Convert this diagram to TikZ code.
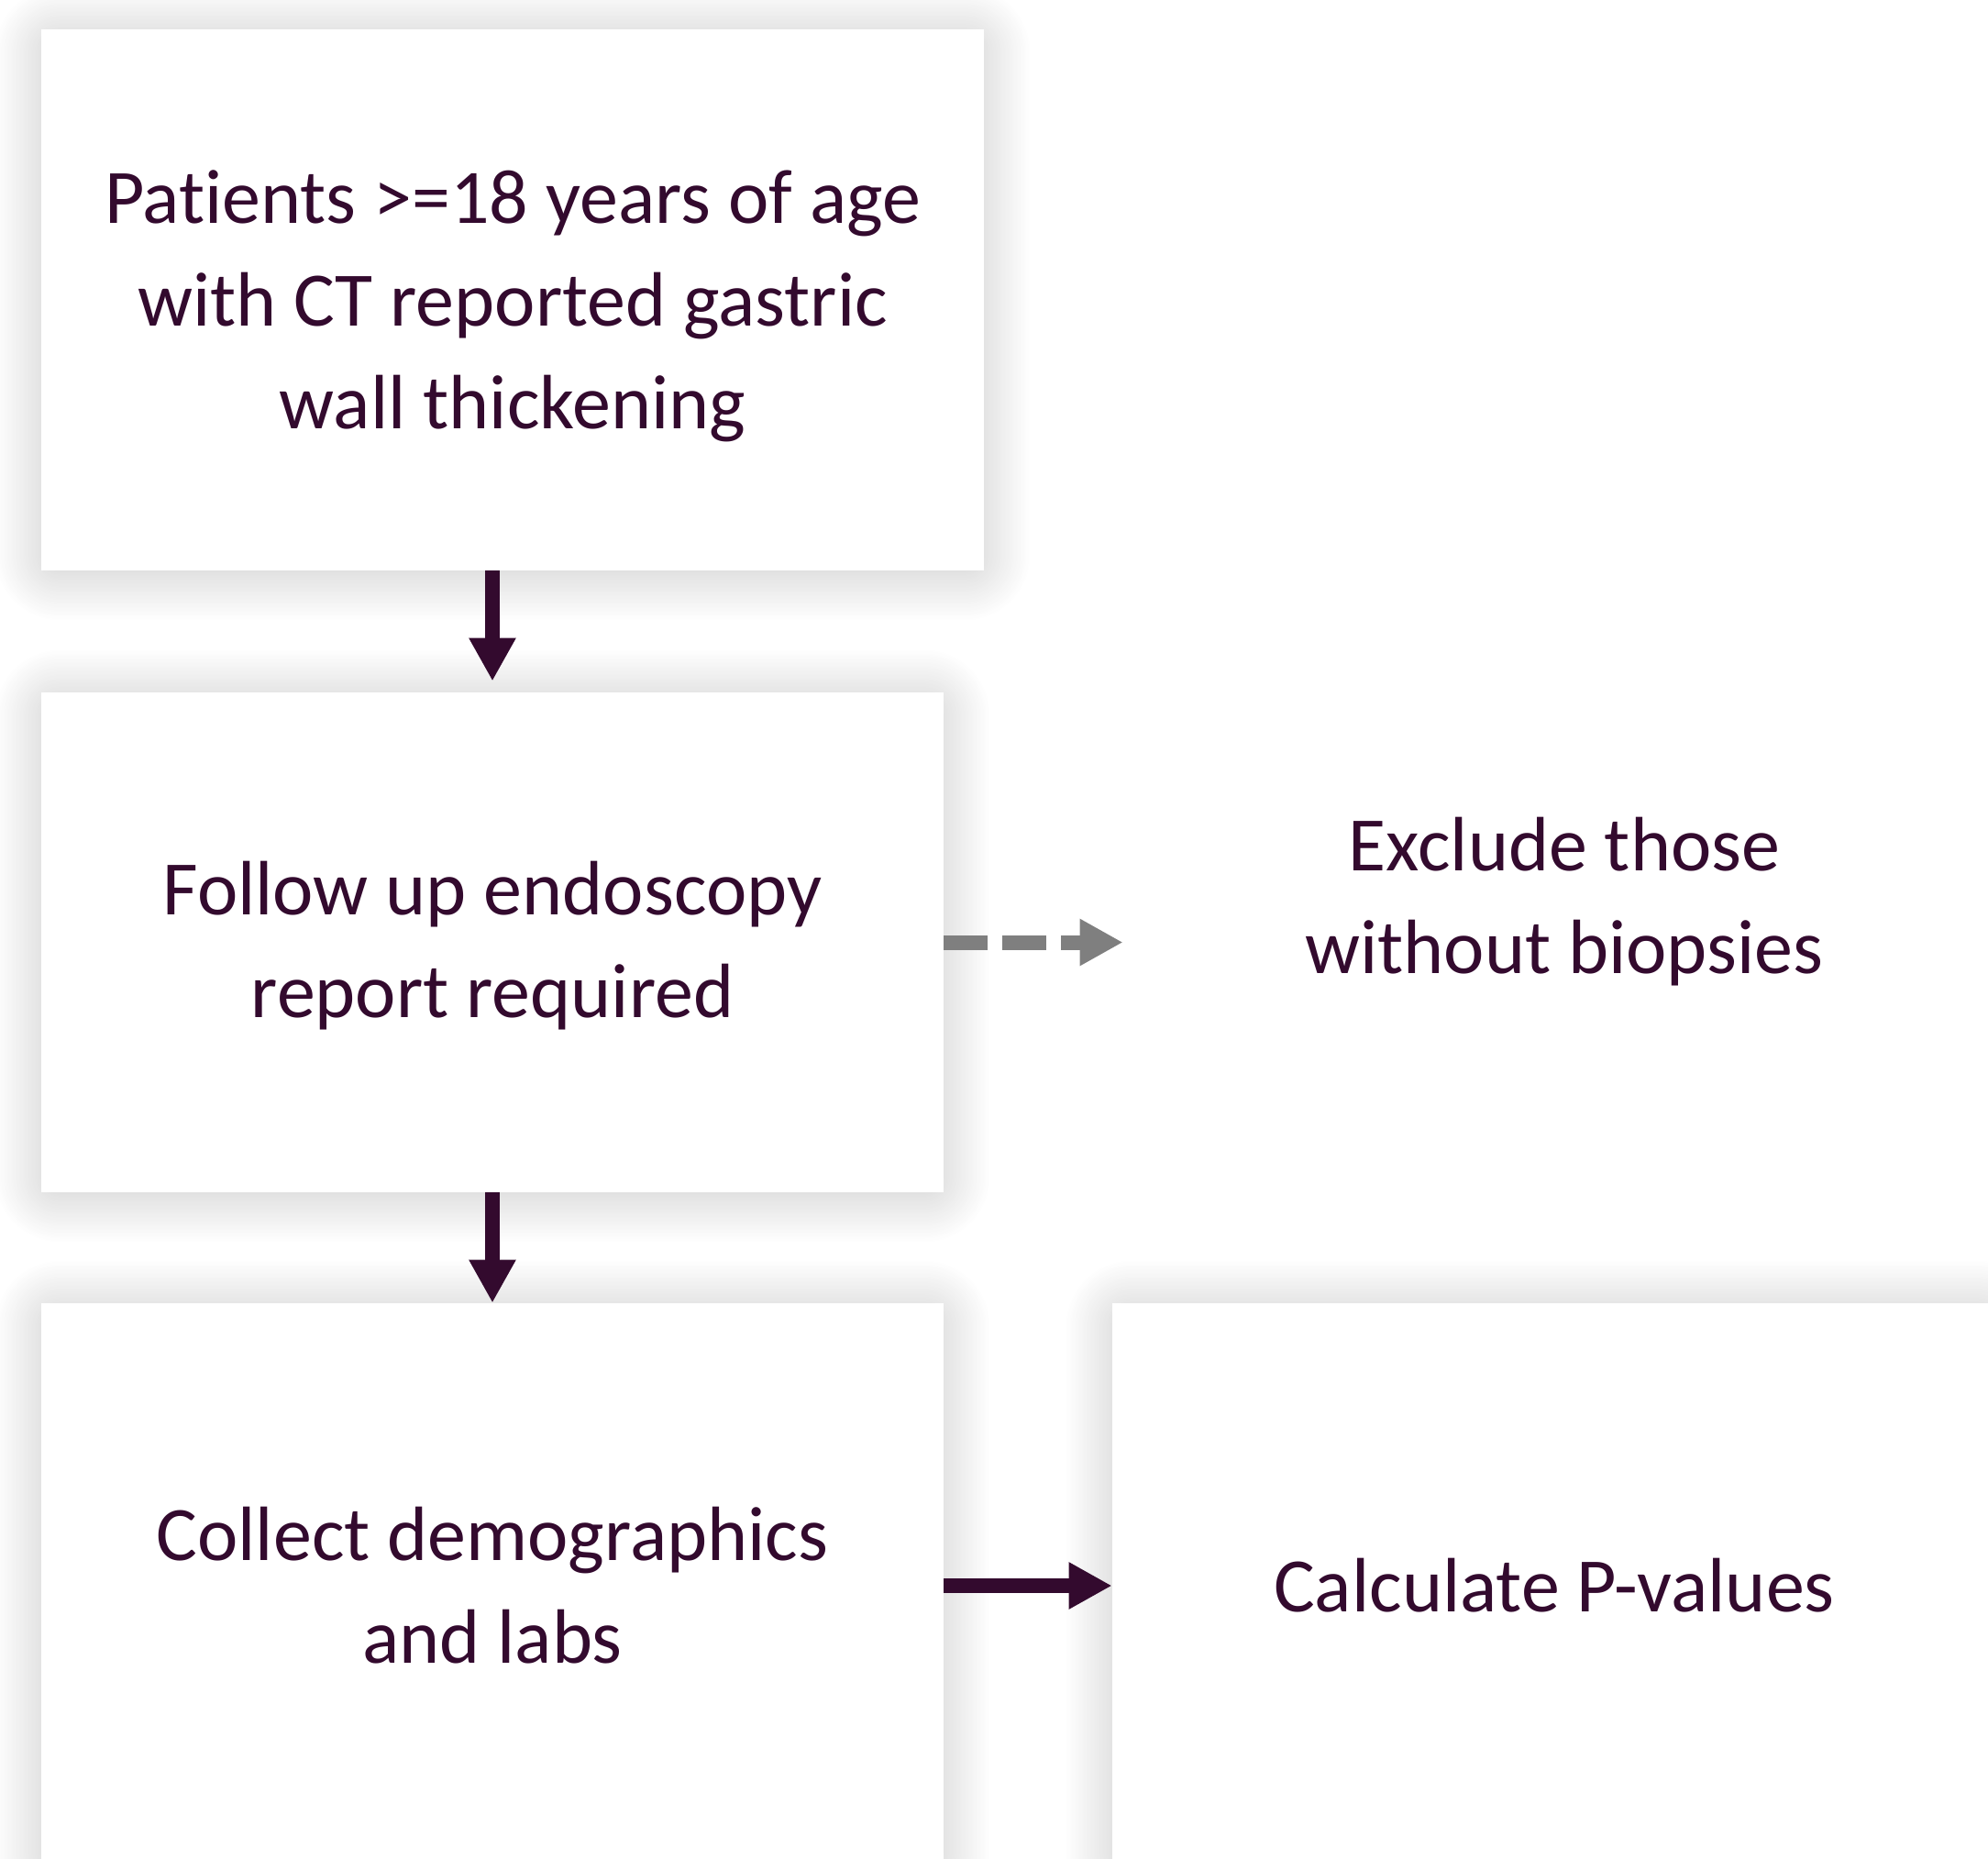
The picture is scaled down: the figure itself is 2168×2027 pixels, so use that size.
\documentclass[tikz,border=0pt]{standalone}
\usepackage{fontspec}
\setmainfont{Carlito}[Ligatures=CommonOff]
\usetikzlibrary{arrows.meta,shadows.blur}
\definecolor{ink}{HTML}{330A2E}
\definecolor{dashgrey}{HTML}{7F7F7F}
\begin{document}
\begin{tikzpicture}[x=0.5pt,y=-0.5pt,
  every node/.style={font=\fontsize{42pt}{56pt}\selectfont, text=ink, align=center, inner sep=0pt},
  card/.style={rectangle, fill=white,
    blur shadow={shadow xshift=0pt, shadow yshift=-2pt, shadow blur radius=26pt,
      shadow blur steps=40, shadow blur extra rounding=10pt, shadow opacity=22}},
  flow/.style={draw=ink, line width=8pt, -{Triangle[length=23.5pt,width=24pt]}},
  skip/.style={draw=dashgrey, line width=8pt, dash pattern=on 24pt off 8pt, -{Triangle[length=23.5pt,width=24pt]}}]
\useasboundingbox (0,0) rectangle (2168,2027);
\clip (0,0) rectangle (2168,2027);

% boxes of the flow
\node[card, minimum width=514pt, minimum height=295pt] (b1) at (559,327)
  {\rule{0pt}{36pt}Patients >=18 years of age\\with CT reported gastric\\wall thickening};
\node[card, minimum width=492pt, minimum height=272.5pt] (b2) at (537,1027.5)
  {\rule{0pt}{33pt}Follow up endoscopy\\report required};
\node[card, minimum width=492pt, minimum height=308pt] (b3) at (537,1729)
  {Collect demographics\\and labs};
\node[card, minimum width=482pt, minimum height=308pt] (b4) at (1695,1729)
  {Calculate P-values};
\node[minimum width=481pt] (ex) at (1706,983)
  {Exclude those\\without biopsies};

% connectors
\draw[flow, shorten >=6pt] (b1.south -| b2.north) -- (b2.north);
\draw[flow] (b2.south) -- (b3.north);
\draw[skip] (b2.east) -- (b2.east -| ex.west);
\draw[flow] (b3.east) -- (b4.west);
\end{tikzpicture}
\end{document}
